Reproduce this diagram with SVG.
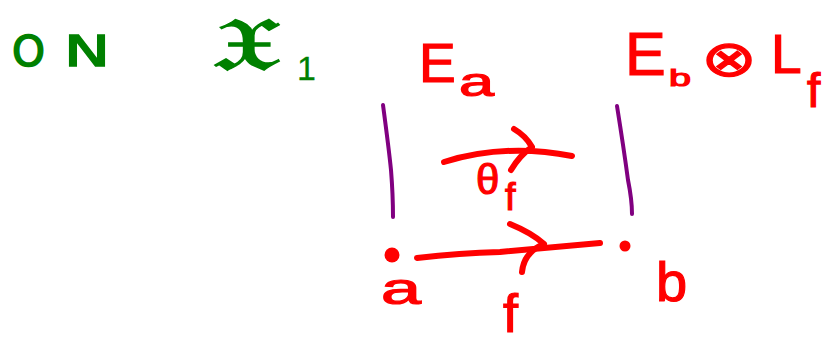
<svg xmlns="http://www.w3.org/2000/svg" width="832" height="345" viewBox="0 0 832 345">
<style>
.g{fill:#008000;stroke:#008000;stroke-width:1.5;font-family:"DejaVu Sans","Noto Sans",sans-serif}
.r{fill:#ff0000;stroke:#ff0000;stroke-width:1.2;font-family:"Liberation Sans","DejaVu Sans",sans-serif}
.st{fill:none;stroke-linecap:round;stroke-linejoin:round}
.red{stroke:#ff0000;stroke-width:6}
.pur{stroke:#800080;stroke-width:4}
</style>
<rect width="832" height="345" fill="#ffffff"/>
<g id="title">
<text class="g" x="12" y="66" font-size="42" textLength="33" lengthAdjust="spacingAndGlyphs">O</text>
<text class="g" x="64" y="66" font-size="42" textLength="46" lengthAdjust="spacingAndGlyphs">N</text>
<text class="g" x="212" y="70" font-size="74" textLength="68" lengthAdjust="spacingAndGlyphs">𝔛</text>
<text class="g" x="297" y="80" font-size="34" style="stroke-width:0.3;font-family:'Liberation Sans',sans-serif">1</text>
</g>
<g id="fiber-a">
<text class="r" x="419" y="82" font-size="55">E</text>
<text class="r" x="459" y="96" font-size="40" textLength="35" lengthAdjust="spacingAndGlyphs">a</text>
</g>
<g id="fiber-b">
<text class="r" x="625" y="75" font-size="61">E</text>
<text class="r" x="669" y="86" font-size="24" textLength="22" lengthAdjust="spacingAndGlyphs">b</text>
<text class="r" x="701" y="76" font-size="50" textLength="56" lengthAdjust="spacingAndGlyphs">⊗</text>
<text class="r" x="771" y="73" font-size="55">L</text>
<text class="r" x="807" y="107" font-size="48">f</text>
</g>
<g id="node-a">
<circle cx="392" cy="255" r="7.5" fill="#ff0000"/>
<text class="r" x="381" y="304" font-size="44" textLength="40" lengthAdjust="spacingAndGlyphs">a</text>
</g>
<g id="node-b">
<circle cx="625" cy="246" r="5.5" fill="#ff0000"/>
<text class="r" x="656" y="301" font-size="56">b</text>
</g>
<g id="connectors">
<path class="st pur" d="M383,105 Q389,150 391,170 Q393,195 393,217"/>
<path class="st pur" d="M617,106 Q624,150 628,180 Q632,200 632,214"/>
<path class="st red" d="M444,162 Q505,143 572,156"/>
<path class="st red" d="M514,129 Q526,136 532,147 Q520,155 511,170"/>
<path class="st red" d="M417,258 Q460,253 500,252 L600,243"/>
<path class="st red" d="M510,224 Q532,233 544,244 Q524,252 522,272"/>
<text class="r" x="476" y="194" font-size="42">θ</text>
<text class="r" x="505" y="210" font-size="38">f</text>
<text class="r" x="503" y="332" font-size="54">f</text>
</g>
</svg>
